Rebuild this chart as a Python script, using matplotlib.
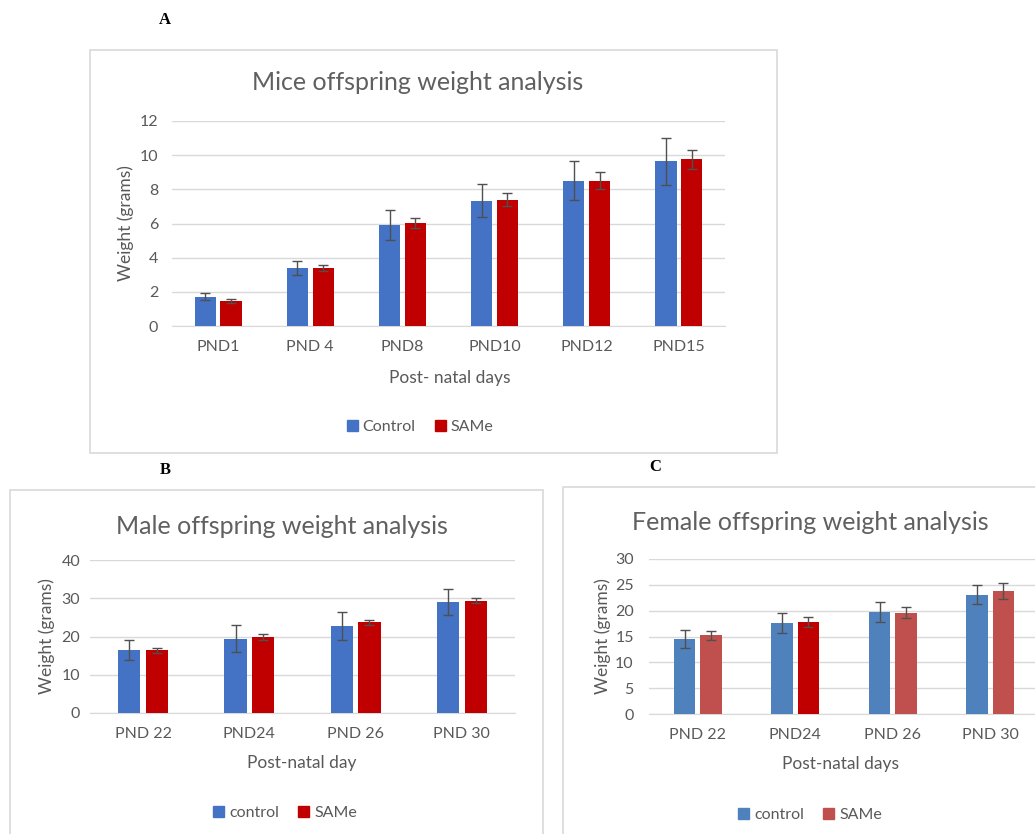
import numpy as np
import matplotlib.pyplot as plt
from matplotlib.patches import Rectangle, Patch

plt.rcParams['font.family'] = ['Lato', 'DejaVu Sans']

# panel A - mice offspring
days_a = ["PND1", "PND 4", "PND8", "PND10", "PND12", "PND15"]
ctrl_a = [1.72, 3.39, 5.93, 7.34, 8.51, 9.63]
ctrl_a_err = [0.2, 0.39, 0.88, 0.98, 1.15, 1.39]
same_a = [1.47, 3.39, 6.03, 7.40, 8.51, 9.75]
same_a_err = [0.13, 0.17, 0.29, 0.37, 0.51, 0.57]

# panel B - male offspring
days_b = ["PND 22", "PND24", "PND 26", "PND 30"]
ctrl_b = [16.4, 19.4, 22.8, 28.9]
ctrl_b_err = [2.6, 3.5, 3.7, 3.4]
same_b = [16.4, 19.9, 23.7, 29.4]
same_b_err = [0.6, 0.8, 0.6, 0.7]

# panel C - female offspring
days_c = ["PND 22", "PND24", "PND 26", "PND 30"]
ctrl_c = [14.5, 17.6, 19.75, 23.1]
ctrl_c_err = [1.75, 2.0, 2.0, 1.9]
same_c = [15.2, 17.75, 19.6, 23.8]
same_c_err = [0.85, 1.0, 1.1, 1.6]

W, H = 1035, 834
GRAY = "#595959"
BLUE = "#4472C4"
RED = "#C00000"
BLUE_C = "#4F81BD"
RED_C = "#C0504D"

fig = plt.figure(figsize=(W / 100, H / 100), dpi=100)


def px_axes(left, right, y0, ytop):
    return fig.add_axes([left / W, 1 - y0 / H, (right - left) / W, (y0 - ytop) / H])


def frame(x0, y0, x1, y1):
    fig.patches.append(Rectangle((x0 / W, 1 - y1 / H), (x1 - x0) / W, (y1 - y0) / H,
                                 transform=fig.transFigure, fill=False,
                                 edgecolor="#D9D9D9", linewidth=1.2))


def draw_panel(ax, cats, c, ce, s, se, ctrl_col, same_col, ymax, step, bw, gap, ypad):
    x = np.arange(len(cats))
    ekw = dict(ecolor="#505050", elinewidth=1.0, capthick=1.0)
    ax.bar(x - (bw + gap) / 2, c, bw, color=ctrl_col, yerr=ce, capsize=3.5, error_kw=ekw, zorder=3)
    ax.bar(x + (bw + gap) / 2, s, bw, color=same_col, yerr=se, capsize=3.5, error_kw=ekw, zorder=3)
    ax.set_xlim(-0.5, len(cats) - 0.5)
    ax.set_ylim(0, ymax)
    ax.set_yticks(np.arange(0, ymax + 0.1, step))
    ax.set_xticks(x)
    ax.set_xticklabels(cats)
    ax.yaxis.grid(True, color="#D9D9D9", linewidth=1)
    ax.set_axisbelow(True)
    for sp in ["top", "right", "left"]:
        ax.spines[sp].set_visible(False)
    ax.spines["bottom"].set_color("#D9D9D9")
    ax.tick_params(length=0, labelsize=11.5, colors=GRAY, pad=10)
    ax.tick_params(axis="y", pad=ypad)


def legend(x, y, labels, cols):
    fig.legend(handles=[Patch(color=cols[0], label=labels[0]), Patch(color=cols[1], label=labels[1])],
               loc="center", bbox_to_anchor=(x / W, 1 - y / H), ncol=2, frameon=False,
               handlelength=0.7, handleheight=0.7, handletextpad=0.3, columnspacing=1.2,
               fontsize=11.5, labelcolor=GRAY)


TITLE_KW = dict(fontsize=18, color="#606060", ha="center", va="center")
LAB_KW = dict(fontsize=12.5, color=GRAY, ha="center", va="center")
LET_KW = dict(fontsize=12, fontweight="bold", family="Liberation Serif", ha="center", va="center")

# Panel A
frame(90, 50, 777, 453)
axA = px_axes(172, 725, 326, 121)
draw_panel(axA, days_a, ctrl_a, ctrl_a_err, same_a, same_a_err, BLUE, RED, 12, 2, 0.23, 0.05, 10)
axA.set_ylabel("Weight (grams)", fontsize=12.5, color=GRAY, labelpad=4)
fig.text(418 / W, 1 - 83 / H, "Mice offspring weight analysis", **TITLE_KW)
fig.text(450 / W, 1 - 378 / H, "Post- natal days", **LAB_KW)
legend(420, 427, ["Control", "SAMe"], [BLUE, RED])
fig.text(165 / W, 1 - 20 / H, "A", **LET_KW)

# Panel B
frame(10, 490, 543, 840)
axB = px_axes(90, 515, 713, 560)
draw_panel(axB, days_b, ctrl_b, ctrl_b_err, same_b, same_b_err, BLUE, RED, 40, 10, 0.21, 0.05, 7)
axB.set_ylabel("Weight (grams)", fontsize=12.5, color=GRAY, labelpad=5)
fig.text(282 / W, 1 - 527 / H, "Male offspring weight analysis", **TITLE_KW)
fig.text(302 / W, 1 - 763 / H, "Post-natal day", **LAB_KW)
legend(285, 813, ["control", "SAMe"], [BLUE, RED])
fig.text(165 / W, 1 - 470 / H, "B", **LET_KW)

# Panel C
frame(563, 487, 1040, 840)
axC = px_axes(649, 1039, 714, 559)
same_c_cols = [RED_C, RED, RED_C, RED_C]
draw_panel(axC, days_c, ctrl_c, ctrl_c_err, same_c, same_c_err, BLUE_C, same_c_cols, 30, 5, 0.22, 0.05, 11)
axC.set_ylabel("Weight (grams)", fontsize=12.5, color=GRAY, labelpad=3)
fig.text(810 / W, 1 - 522 / H, "Female offspring weight analysis", **TITLE_KW)
fig.text(840 / W, 1 - 764 / H, "Post-natal days", **LAB_KW)
legend(810, 815, ["control", "SAMe"], [BLUE_C, RED_C])
fig.text(655 / W, 1 - 467 / H, "C", **LET_KW)

fig.savefig("out.png", dpi=100)
